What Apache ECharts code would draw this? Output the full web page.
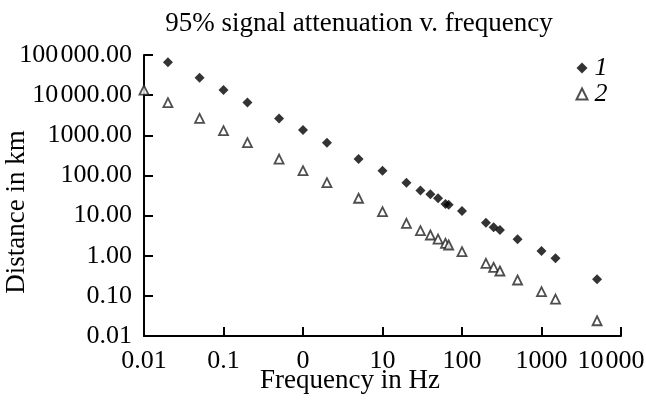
<!DOCTYPE html>
<html>
<head>
<meta charset="utf-8">
<script src="https://cdn.jsdelivr.net/npm/echarts@6/dist/echarts.min.js"></script>
<style>html,body{margin:0;padding:0;background:#fff;overflow:hidden;}#c{width:646px;height:403px;}</style>
</head>
<body>
<div id="c"></div>
<script>
var freq1 = [0.02, 0.05, 0.1, 0.2, 0.5, 1, 2, 5, 10, 20, 30, 40, 50, 62, 68, 100, 200, 250, 300, 500, 1000, 1500, 5000];
var dist1 = [65800, 27200, 13400, 6600, 2630, 1350, 653, 256, 131, 66, 42, 33.9, 27, 19.4, 18.6, 13.0, 6.64, 5.1, 4.37, 2.57, 1.31, 0.86, 0.258];
var freq2 = [0.01, 0.02, 0.05, 0.1, 0.2, 0.5, 1, 2, 5, 10, 20, 30, 40, 50, 62, 68, 100, 200, 250, 300, 500, 1000, 1500, 5000];
var dist2 = [13400, 6490, 2630, 1300, 653, 256, 131, 66, 27, 12.5, 6.4, 4.2, 3.28, 2.6, 2.04, 1.85, 1.26, 0.645, 0.514, 0.416, 0.248, 0.127, 0.083, 0.024];
var seriesNames = ['1', '2'];
var xTickLabels = ['0.01', '0.1', '0', '10', '100', '1000', '10\u200A000'];
var yTickLabels = ['0.01', '0.10', '1.00', '10.00', '100.00', '1000.00', '10\u200A000.00', '100\u200A000.00'];
var titleText = '95% signal attenuation v. frequency';
var xName = 'Frequency in Hz';
var yName = 'Distance in km';

var FONT = '"Liberation Serif", "Times New Roman", serif';
function pairs(xs, ys) { return xs.map(function (x, i) { return [x, ys[i]]; }); }
function idx(v, minExp) { return Math.round(Math.log10(v)) - minExp; }

var chart = echarts.init(document.getElementById('c'));
chart.setOption({
  backgroundColor: '#fff',
  animation: false,
  textStyle: { fontFamily: FONT, color: '#000' },
  title: {
    text: titleText, left: 359, top: 10, textAlign: 'center', padding: 0,
    textStyle: { fontFamily: FONT, fontSize: 27, fontWeight: 'normal', color: '#000' }
  },
  legend: {
    orient: 'vertical', left: 575.5, top: 55, itemGap: 0, itemWidth: 11, itemHeight: 11, padding: 0,
    data: seriesNames,
    textStyle: { fontFamily: FONT, fontSize: 26, fontStyle: 'italic', color: '#000', padding: [0, 0, 0, 2] }
  },
  grid: { left: 144, right: 25, top: 55, bottom: 67, containLabel: false, outerBoundsMode: 'none' },
  xAxis: {
    type: 'log', logBase: 10, min: 0.01, max: 10000,
    axisLine: { show: true, lineStyle: { color: '#000', width: 2 } },
    axisTick: { show: true, inside: true, length: 9, lineStyle: { color: '#000', width: 2 } },
    splitLine: { show: false },
    minorTick: { show: false },
    axisLabel: {
      margin: 12, fontFamily: FONT, fontSize: 26, color: '#000',
      formatter: function (v) {
        var i = idx(v, -2);
        return i === xTickLabels.length - 1 ? '{last|' + xTickLabels[i] + '}' : xTickLabels[i];
      },
      rich: { last: { fontFamily: FONT, fontSize: 26, color: '#000', padding: [0, 20, 0, 0] } }
    }
  },
  yAxis: {
    type: 'log', logBase: 10, min: 0.01, max: 100000,
    axisLine: { show: true, lineStyle: { color: '#000', width: 2 } },
    axisTick: { show: true, inside: true, length: 9, lineStyle: { color: '#000', width: 2 } },
    splitLine: { show: false },
    axisLabel: {
      margin: 12, fontFamily: FONT, fontSize: 26, color: '#000',
      formatter: function (v) { return yTickLabels[idx(v, -2)]; }
    }
  },
  graphic: [
    { type: 'text', x: 350, y: 381, style: { text: xName, font: '27px ' + FONT, fill: '#000', textAlign: 'center', textVerticalAlign: 'middle' } },
    { type: 'text', x: 17, y: 212, rotation: Math.PI / 2, style: { text: yName, font: '27px ' + FONT, fill: '#000', textAlign: 'center', textVerticalAlign: 'middle' } }
  ],
  series: [
    {
      name: seriesNames[0], type: 'scatter', symbol: 'diamond', symbolSize: 10, clip: false,
      itemStyle: { color: '#000' },
      data: pairs(freq1, dist1)
    },
    {
      name: seriesNames[1], type: 'scatter', symbol: 'triangle', symbolSize: 9, clip: false,
      itemStyle: { color: '#fff', borderColor: '#222', borderWidth: 1.8 },
      data: pairs(freq2, dist2)
    }
  ]
});
</script>
</body>
</html>
